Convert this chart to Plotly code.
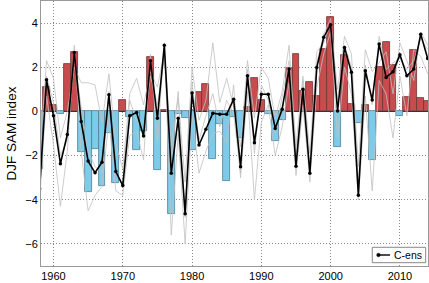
import plotly.graph_objects as go

years = list(range(1958, 2015))

obs_sam = [
    -2.6, 1.11, 0.28, -0.13, 2.17, 2.67, -1.85, -3.66, -1.7, -3.36,
    -0.96, -3.25, 0.51, -0.25, -1.75, -0.9, 2.45, -2.67, 0.08, -4.63,
    -0.1, -0.3, -1.75, 0.9, 1.23, -2.15, -0.58, -3.15, -0.25, -1.2,
    0.2, 1.5, 0.5, -0.13, -1.34, -0.4, 1.96, 2.6, 0.92, 1.33,
    0.7, 2.83, 4.27, -1.6, 2.57, 0.33, -0.52, 0.28, -2.22, 2.02,
    3.13, 2.1, -0.2, 0.66, 2.8, 0.63, 0.45,
]

c_ens = [
    -3.5, 1.43, -0.2, -2.37, -1.04, 2.67, -0.46, -2.25, -2.78, -2.3,
    0.75, -2.72, -3.36, -0.2, -0.05, -1.11, 2.3, -0.31, 3.0, -2.8,
    -0.31, -4.63, 0.83, -1.52, -0.81, -0.08, -0.13, -0.13, 0.55, -2.5,
    1.61, -1.42, 0.78, 0.78, -0.77, 0.1, 1.92, -2.48, 1.0, -2.8,
    1.99, 3.36, 3.93, 0.02, 2.9, 1.77, -3.8, 1.84, 0.52, 3.05,
    1.54, 1.8, 2.57, 1.61, 1.92, 3.5, 2.4,
]

member_1 = [
    -2.0, 2.3, 1.5, -1.2, 0.0, 2.0, 1.3, 1.3, 1.2, -0.5,
    1.7, -1.5, -2.6, 0.8, 1.5, 0.3, 1.8, 1.1, 2.7, -1.5,
    0.6, -3.2, 2.0, -0.4, 0.5, 3.1, 0.4, 1.5, 0.2, -1.6,
    2.3, -0.3, 2.0, 1.5, -0.3, 0.9, 3.0, -1.6, 1.6, -1.9,
    2.7, 3.1, 4.0, 1.0, 3.4, 2.6, -2.5, 2.8, 1.8, 2.2,
    2.7, 0.8, 3.1, 2.3, 1.4, 3.6, 3.0,
]

member_2 = [
    -4.0, 0.7, -1.5, -4.3, -1.8, 3.0, -1.8, -4.5, -3.8, -3.4,
    -0.4, -3.6, -3.8, -1.1, -0.9, -2.2, 2.6, -1.4, 3.1, -5.6,
    -1.0, -6.0, -0.2, -2.8, -1.8, -1.0, -0.9, -1.4, 1.2, -3.0,
    0.9, -4.0, -0.5, 0.3, -2.0, -0.7, 1.3, -2.9, 0.3, -3.2,
    1.1, 2.6, 3.6, -1.2, 2.0, 0.8, -4.0, 0.7, -3.6, 1.4,
    0.8, -1.2, 1.6, -0.2, 2.8, 2.5, 1.7,
]

member_3 = [
    -3.8, 1.6, 0.4, -2.0, -1.3, 2.4, 0.2, -1.8, -2.5, -2.8,
    0.9, -2.8, -3.3, 0.5, -0.4, -0.8, 1.6, 0.3, 2.4, -2.2,
    0.9, -4.8, 1.3, -1.3, -0.2, 0.8, -0.7, 0.5, -0.1, -2.8,
    1.9, -1.9, 1.2, 0.5, -1.0, 0.6, 2.3, -2.1, 1.4, -2.6,
    2.2, 3.5, 4.2, 0.5, 3.0, 2.0, -3.4, 2.1, 0.3, 3.4,
    1.9, 2.2, 2.4, 1.9, 2.3, 3.3, 2.8,
]

x_ticks = [1960, 1970, 1980, 1990, 2000, 2010]
y_ticks = [-6, -4, -2, 0, 2, 4]
legend_label = "C-ens"

RED = "#c84b4e"
BLUE = "#7dcbe9"

fig = go.Figure()

fig.add_trace(go.Bar(
    x=years, y=obs_sam, width=1.0,
    marker=dict(
        color=[RED if v >= 0 else BLUE for v in obs_sam],
        line=dict(color=["#6e3434" if v >= 0 else "#4f7f93" for v in obs_sam], width=0.8),
    ),
    showlegend=False, hoverinfo="skip",
))

for m in (member_1, member_2, member_3):
    fig.add_trace(go.Scatter(
        x=years, y=m, mode="lines",
        line=dict(color="#c0c0c0", width=0.8),
        showlegend=False, hoverinfo="skip",
    ))

fig.add_trace(go.Scatter(
    x=years, y=c_ens, mode="lines+markers", name=legend_label,
    line=dict(color="black", width=1.6),
    marker=dict(color="black", size=3.5),
    showlegend=False,
))

# compact legend box (bottom right): box, sample line with dot, label
fig.add_shape(
    type="rect", xref="paper", yref="paper",
    x0=0.856, x1=0.994, y0=0.0125, y1=0.0706,
    line=dict(color="#888888", width=1), fillcolor="white", layer="above",
)
fig.add_shape(
    type="line", xref="paper", yref="paper",
    x0=0.8708, x1=0.9018, y0=0.0415, y1=0.0415,
    line=dict(color="black", width=1.4), layer="above",
)
fig.add_shape(
    type="circle", xref="paper", yref="paper",
    x0=0.8674, x1=0.8767, y0=0.0347, y1=0.0483,
    line=dict(color="black", width=0.5), fillcolor="black", layer="above",
)
fig.add_annotation(
    xref="paper", yref="paper", x=0.988, y=0.0415,
    xanchor="right", yanchor="middle",
    text=legend_label, showarrow=False,
    font=dict(size=10.5, color="black"),
    borderpad=0,
)

fig.update_layout(
    width=429, height=283,
    margin=dict(l=41, r=1, t=1, b=17),
    paper_bgcolor="white", plot_bgcolor="white",
    bargap=0,
    font=dict(family="Liberation Sans, Arial, sans-serif", size=11, color="black"),
    showlegend=False,
)

fig.update_xaxes(
    range=[1958.2, 2014.05], tickvals=x_ticks, ticks="",
    showgrid=True, gridcolor="#8f8585", griddash="1px,2px", gridwidth=1,
    showline=True, linecolor="#999999", linewidth=1, mirror=True,
    zeroline=False, tickfont=dict(size=11),
)
fig.update_yaxes(
    range=[-7, 5], tickvals=y_ticks, ticks="",
    showgrid=True, gridcolor="#8f8585", griddash="1px,2px", gridwidth=1,
    showline=True, linecolor="#999999", linewidth=1, mirror=True,
    zeroline=True, zerolinecolor="#333333", zerolinewidth=1,
    title=dict(text="DJF SAM index", font=dict(size=13.5), standoff=5),
    tickfont=dict(size=11),
)

fig.write_html(
    "out.html",
    config={"displayModeBar": False},
    post_script="document.body.style.margin='0';document.body.style.overflow='hidden';",
)
